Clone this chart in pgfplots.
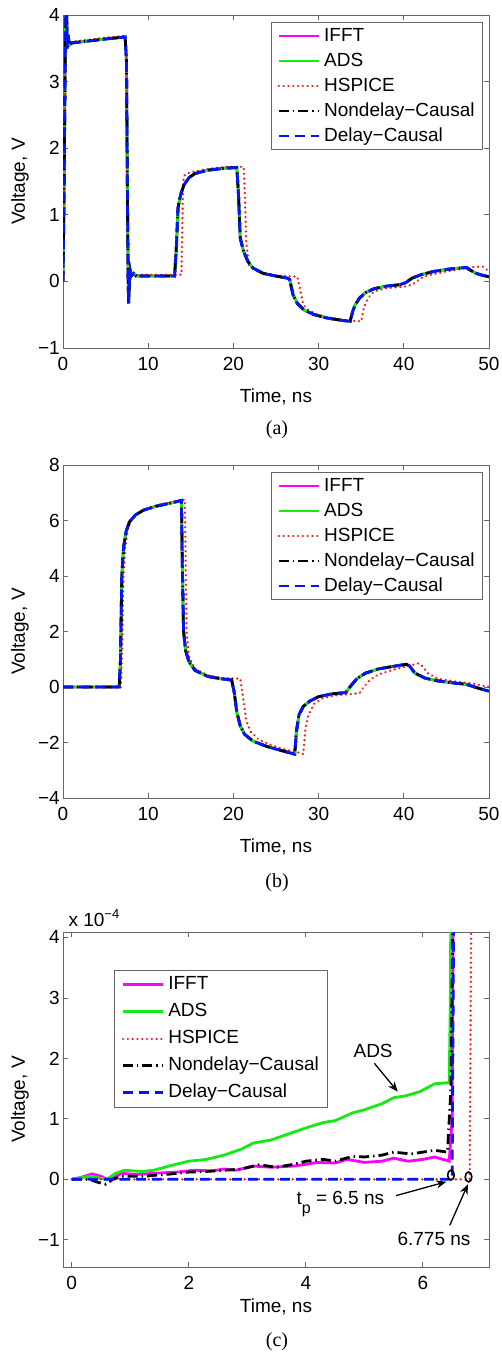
\documentclass[border=0pt]{standalone}
\usepackage{fontspec}
\setmainfont{Liberation Sans}
\newfontfamily\capfont{Liberation Serif}
\usepackage{pgfplots}
\usetikzlibrary{arrows.meta}
\pgfplotsset{compat=1.18}
\definecolor{cifft}{RGB}{255,0,255}
\definecolor{cads}{RGB}{20,235,20}
\definecolor{chsp}{RGB}{240,30,30}
\definecolor{cdel}{RGB}{0,20,255}
\newcommand{\F}{\fontsize{19}{22}\selectfont}
\pgfplotsset{
  mstyle/.style={
    scale only axis, width=426pt,
    enlargelimits=false,
    axis line style={draw=black!60, line width=0.8pt},
    tick align=inside, major tick length=5pt,
    tick style={draw=black!60, line width=0.8pt},
    ticklabel style={font=\F, inner sep=1pt},
    xticklabel style={yshift=-8pt},
    yticklabel style={xshift=-2pt},
    label style={font=\F},
    /pgf/number format/assume math mode=true,
    ylabel style={at={(axis description cs:-0.101,0.5)}, anchor=center},
    legend cell align=left,
    legend image code/.code={\draw[##1] (0pt,0pt) -- (40pt,0pt);},
    legend style={draw=black!60, line width=0.8pt, font=\F, inner xsep=6pt, inner ysep=1pt,
      column sep=2pt, row sep=0pt,
      nodes={inner sep=2pt, text height=16pt, text depth=5pt}},
  },
  sifft/.style={cifft, line width=2.8pt},
  sads/.style={cads, line width=2.8pt},
  shsp/.style={chsp, line width=2.4pt, line cap=round, dash pattern=on 0.2pt off 4.6pt},
  snon/.style={black, line width=2.8pt, dash pattern=on 10pt off 4pt on 1.5pt off 4pt},
  sdel/.style={cdel, line width=2.8pt, dash pattern=on 10pt off 6pt},
}
\pgfplotstableread{
t v
0 0
0.1 1.0
0.25 3.2
0.35 4.2
0.45 3.9
0.5 3.5
0.6 3.7
0.75 3.55
1.0 3.58
3 3.61
5 3.64
7.3 3.67
7.45 3.3
7.55 1.5
7.65 0.0
7.7 -0.33
7.8 0.0
7.9 0.15
8.0 0.08
8.3 0.12
8.6 0.08
13.1 0.08
13.3 0.5
13.5 1.1
13.8 1.3
14.2 1.45
14.8 1.56
15.5 1.62
17 1.67
19 1.7
20.4 1.71
20.6 1.3
20.8 0.65
21.2 0.45
21.7 0.3
22.3 0.2
23.5 0.12
25 0.08
26.3 0.05
26.6 0.03
27.0 -0.2
27.5 -0.33
28.3 -0.43
29.5 -0.5
31 -0.55
32.5 -0.58
33.7 -0.6
34.0 -0.45
34.3 -0.35
34.8 -0.25
35.5 -0.17
36.5 -0.11
38 -0.07
39.5 -0.05
40.2 -0.02
41 0.05
42 0.1
43.5 0.15
45 0.18
46.5 0.2
47.3 0.21
47.8 0.17
48.5 0.12
49.3 0.09
50 0.07
}\dataAmain
\pgfplotstableread{
t v
0 0
0.1 1.0
0.25 3.2
0.35 4.2
0.45 3.9
0.5 3.5
0.6 3.7
0.75 3.57
1.0 3.6
3 3.63
5 3.66
7.3 3.69
7.45 3.3
7.55 1.5
7.65 0.0
7.7 -0.33
7.8 0.0
7.9 0.15
8.0 0.1
8.3 0.12
8.6 0.1
13.9 0.1
14.0 0.8
14.1 1.5
14.3 1.6
15 1.64
17 1.69
19 1.72
21.2 1.72
21.35 1.3
21.5 0.6
21.8 0.25
22.3 0.2
23.5 0.13
25 0.09
27.5 0.07
27.8 -0.1
28.2 -0.35
28.8 -0.43
29.5 -0.48
31 -0.54
33 -0.58
35.0 -0.6
35.3 -0.4
35.8 -0.25
36.5 -0.15
38 -0.1
40 -0.08
41 -0.05
41.5 0.0
42.3 0.07
43.5 0.11
45 0.15
47 0.19
48.3 0.22
49.3 0.22
50 0.15
}\dataAhsp
\pgfplotstableread{
t v
0 0
6.6 0
6.75 1.0
6.9 4.0
7.1 5.0
7.4 5.6
7.8 5.95
8.5 6.2
9.5 6.38
11 6.52
12.5 6.62
13.9 6.72
14.0 4.5
14.15 2.0
14.4 1.3
14.8 0.9
15.5 0.6
17 0.38
18.5 0.3
19.8 0.25
20.1 -0.2
20.4 -0.9
20.8 -1.4
21.3 -1.7
22.3 -1.95
24 -2.15
26 -2.32
27.2 -2.42
27.4 -1.6
27.7 -1.0
28.2 -0.7
29 -0.5
30 -0.35
31.5 -0.25
33.2 -0.2
33.8 0.05
34.5 0.3
35.5 0.5
37 0.65
38.5 0.73
40.3 0.82
40.7 0.75
41.3 0.5
42.5 0.32
44 0.22
46 0.14
47.3 0.1
48.5 -0.02
50 -0.15
}\dataBmain
\pgfplotstableread{
t v
0 0
6.8 0
6.95 1.5
7.1 4.0
7.3 5.0
7.6 5.7
8 6.0
8.5 6.2
9.5 6.4
11 6.55
12.5 6.65
14.3 6.75
14.4 4.5
14.5 2.0
14.8 1.1
15.5 0.65
17 0.42
18.5 0.33
20.8 0.3
21.1 -0.3
21.5 -1.2
22 -1.6
23 -1.9
24.5 -2.1
26 -2.25
27.5 -2.35
28.2 -2.42
28.45 -1.5
28.8 -1.0
29.5 -0.6
30.5 -0.4
32 -0.3
34 -0.25
34.8 -0.22
35.3 0.0
36 0.25
37 0.45
38.5 0.6
40 0.72
41.7 0.85
42.2 0.75
42.8 0.5
44 0.3
46 0.2
48 0.13
50 0.0
}\dataBhsp
\begin{document}
\begin{tikzpicture}
\useasboundingbox (0,0) rectangle (502pt,-1353pt);
% ---------------- (a)
\begin{axis}[mstyle, height=333pt, at={(63pt,-348pt)}, anchor=south west,
  xmin=0, xmax=50, ymin=-1, ymax=4,
  xtick={0,10,20,30,40,50},
  ytick={-1,0,1,2,3,4}, yticklabels={−1,0,1,2,3,4},
  xlabel={Time, ns}, ylabel={Voltage, V},
  xlabel style={at={(axis description cs:0.5,-0.147)}, anchor=center},
  legend style={at={(0.986,0.979)}, anchor=north east}]
\addplot[sifft] table {\dataAmain};
\addplot[sads] table {\dataAmain};
\addplot[shsp] table {\dataAhsp};
\addplot[snon] table {\dataAmain};
\addplot[sdel] table {\dataAmain};
\legend{IFFT,ADS,HSPICE,Nondelay−Causal,Delay−Causal}
\end{axis}
\node[font=\capfont\fontsize{20}{24}\selectfont] at (277pt,-430pt) {(a)};
% ---------------- (b)
\begin{axis}[mstyle, height=333pt, at={(63pt,-798pt)}, anchor=south west,
  xmin=0, xmax=50, ymin=-4, ymax=8,
  xtick={0,10,20,30,40,50},
  ytick={-4,-2,0,2,4,6,8}, yticklabels={−4,−2,0,2,4,6,8},
  xlabel={Time, ns}, ylabel={Voltage, V},
  xlabel style={at={(axis description cs:0.5,-0.147)}, anchor=center},
  legend style={at={(0.986,0.979)}, anchor=north east}]
\addplot[sifft] table {\dataBmain};
\addplot[sads] table {\dataBmain};
\addplot[shsp] table {\dataBhsp};
\addplot[snon] table {\dataBmain};
\addplot[sdel] table {\dataBmain};
\legend{IFFT,ADS,HSPICE,Nondelay−Causal,Delay−Causal}
\end{axis}
\node[font=\capfont\fontsize{20}{24}\selectfont] at (277pt,-883pt) {(b)};
% ---------------- (c)
\begin{axis}[mstyle, height=335pt, at={(63pt,-1267pt)}, anchor=south west,
  xmin=-0.15, xmax=7.13, ymin=-1.45, ymax=4.09,
  xtick={0,2,4,6},
  ytick={-1,0,1,2,3,4}, yticklabels={−1,0,1,2,3,4},
  xlabel={Time, ns}, ylabel={Voltage, V},
  xlabel style={at={(axis description cs:0.5,-0.119)}, anchor=center},
  legend style={at={(0.12,0.887)}, anchor=north west, inner xsep=7pt,
    nodes={inner sep=2pt, text height=16pt, text depth=7pt}}]
\addplot[sifft] coordinates {(0,0) (0.15,0.03) (0.35,0.09) (0.5,0.05) (0.6,0.0) (0.7,0.02) (0.85,0.1) (1.1,0.08) (1.4,0.1) (1.8,0.12) (2.1,0.15) (2.4,0.14) (2.6,0.17) (2.8,0.15) (3.1,0.22) (3.4,0.2) (3.8,0.22) (4.2,0.28) (4.5,0.27) (4.7,0.33) (5.0,0.28) (5.3,0.3) (5.5,0.35) (5.75,0.3) (6.0,0.33) (6.2,0.37) (6.45,0.3) (6.5,1.0) (6.52,5)};
\addplot[sads] coordinates {(0,0) (0.3,0.05) (0.6,0.0) (0.75,0.1) (0.9,0.15) (1.2,0.13) (1.4,0.15) (1.7,0.23) (2.0,0.3) (2.3,0.33) (2.6,0.4) (2.9,0.5) (3.1,0.6) (3.4,0.65) (3.7,0.75) (4.0,0.85) (4.3,0.94) (4.5,0.97) (4.8,1.1) (5.0,1.15) (5.3,1.25) (5.5,1.35) (5.7,1.38) (5.95,1.45) (6.2,1.58) (6.45,1.6) (6.47,3.0) (6.48,5)};
\addplot[shsp] coordinates {(0,0) (6.8,0) (6.83,5)};
\addplot[snon] coordinates {(0,0) (0.3,0.0) (0.45,-0.05) (0.58,-0.08) (0.7,0.0) (0.85,0.05) (1.0,0.05) (1.2,0.05) (1.6,0.08) (2.0,0.12) (2.3,0.13) (2.6,0.15) (2.9,0.17) (3.2,0.24) (3.5,0.2) (3.8,0.25) (4.0,0.3) (4.3,0.33) (4.5,0.3) (4.8,0.38) (5.0,0.37) (5.3,0.4) (5.5,0.45) (5.8,0.42) (6.0,0.45) (6.2,0.48) (6.42,0.45) (6.48,1.5) (6.52,5)};
\addplot[sdel] coordinates {(0,0) (6.5,0) (6.53,5)};
\legend{IFFT,ADS,HSPICE,Nondelay−Causal,Delay−Causal}
\addplot[only marks, mark=o, mark size=3.3pt, mark options={black, line width=1.6pt, yscale=1.5}, forget plot] coordinates {(6.48,0.07) (6.78,0.04)};
\node[font=\F] at (axis cs:5.15,2.13) {ADS};
\draw[-{Stealth[length=10pt,width=8pt]}, line width=1.3pt] (axis cs:5.17,1.92) -- (axis cs:5.57,1.45);
\node[font=\F] at (axis cs:4.59,-0.41) {t\raisebox{-9pt}{\fontsize{16}{16}\selectfont p} = 6.5 ns};
\draw[-{Stealth[length=10pt,width=8pt]}, line width=1.3pt] (axis cs:5.54,-0.27) -- (axis cs:6.4,-0.04);
\node[font=\F] at (axis cs:6.19,-0.98) {6.775 ns};
\draw[-{Stealth[length=10pt,width=8pt]}, line width=1.3pt] (axis cs:6.46,-0.76) -- (axis cs:6.77,-0.08);
\end{axis}
\node[font=\F, anchor=base west] at (65pt,-926pt) {x 10\raisebox{8pt}{\fontsize{13}{13}\selectfont −4}};
\node[font=\capfont\fontsize{20}{24}\selectfont] at (277pt,-1342pt) {(c)};
\end{tikzpicture}
\end{document}
